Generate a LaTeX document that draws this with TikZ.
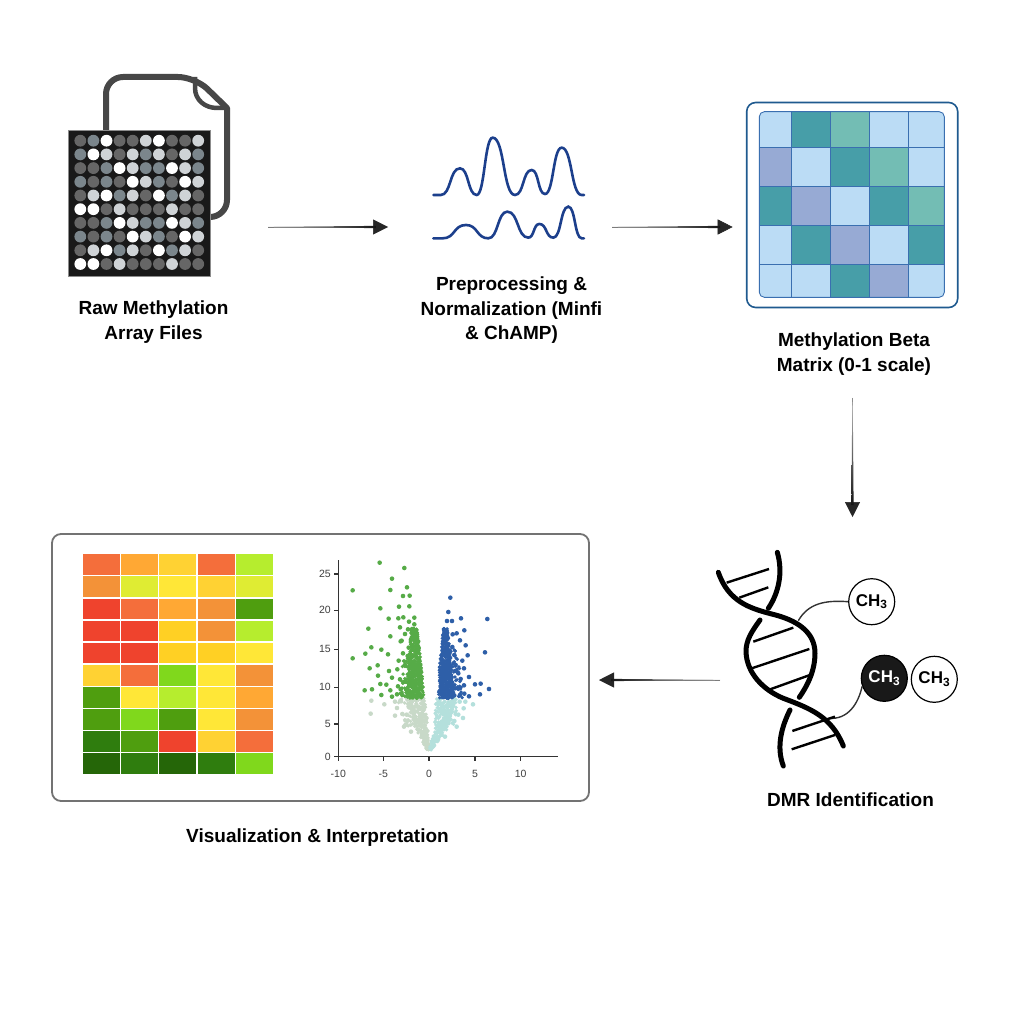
\documentclass[tikz,border=0pt]{standalone}
\usepackage{xcolor}
\usepackage{fontspec}
\setmainfont{Liberation Sans}
\usetikzlibrary{arrows.meta,calc}

% chip dots
\definecolor{dotd}{HTML}{666666}
\definecolor{dotm}{HTML}{7B868C}
\definecolor{dotl}{HTML}{CFD3D6}
\definecolor{dotw}{HTML}{FFFFFF}
% beta matrix
\definecolor{betal}{HTML}{BBDCF5}
\definecolor{betat}{HTML}{479EA8}
\definecolor{betag}{HTML}{73BDB4}
\definecolor{betap}{HTML}{97AAD4}
% heatmap
\definecolor{hmr}{HTML}{EF432D}
\definecolor{hms}{HTML}{F46E3B}
\definecolor{hmo}{HTML}{F39238}
\definecolor{hma}{HTML}{FFA834}
\definecolor{hmy}{HTML}{FFD233}
\definecolor{hmz}{HTML}{FFD024}
\definecolor{hmb}{HTML}{FFE737}
\definecolor{hmc}{HTML}{DFEC33}
\definecolor{hml}{HTML}{B6ED2E}
\definecolor{hmm}{HTML}{80D81C}
\definecolor{hmg}{HTML}{4F9E0F}
\definecolor{hmd}{HTML}{2F7D0E}
\definecolor{hmk}{HTML}{256608}
% volcano plot
\definecolor{volgreen}{HTML}{56AB47}
\definecolor{volblue}{HTML}{2E5FA8}
\definecolor{volpale}{HTML}{C8D9C8}
\definecolor{volaqua}{HTML}{B4E0DC}
\definecolor{wavecol}{HTML}{1C3F8C}
\definecolor{gridcol}{HTML}{3A6FB0}
\definecolor{framecol}{HTML}{1F5A8F}

\tikzset{
  caption/.style={font=\bfseries\fontsize{19}{24.5}\selectfont,align=center,inner sep=0pt},
  iconbox/.style={inner sep=0pt,outer sep=0pt},
  flowarrow/.style={draw=black!55,line width=0.5pt,-{Triangle[length=15pt,width=15pt,color=black!85]}},
  dnastrand/.style={line width=5pt,line cap=round},
  dnarung/.style={line width=2.4pt},
  methylline/.style={draw=black!80,line width=1.4pt},
  methyl/.style={circle,draw=black,line width=1.2pt,minimum size=46pt,inner sep=0pt,font=\bfseries\fontsize{17}{17}\selectfont},
  ticklabel/.style={font=\fontsize{10.5}{12}\selectfont,text=black!75,inner sep=0pt},
  axisline/.style={draw=black!80,line width=1.2pt}
}

\begin{document}
\begin{tikzpicture}[x=1pt,y=-1pt]
\useasboundingbox[fill=white] (0,0) rectangle (1024,1024);

% file behind the chip
\draw[line width=6pt,draw=black!72,line join=round] (106,132) [rounded corners=17pt] -- (106,77) -- (195,77) [sharp corners] -- (227,108) -- (227,150) [rounded corners=17pt] -- (227,217) -- (208,217);
\draw[line width=4.5pt,draw=black!72,line join=round] (195,77) -- (195,88) .. controls (195,100) and (205,108) .. (217,108) -- (227,108);

\node[iconbox,fill=black!90,draw=black!45,line width=0.5pt,minimum width=142pt,minimum height=146pt] (rawchip) at (139,203.7) {};
\foreach \row [count=\j] in {{d,m,w,d,d,l,w,d,d,l},{m,w,l,d,l,m,l,d,l,m},{d,d,m,w,l,m,m,w,l,m},{m,d,m,d,w,l,m,d,w,l},{d,l,w,m,l,d,w,m,l,d},{w,w,d,l,d,d,d,l,d,d},{d,d,m,w,l,m,m,w,l,m},{m,d,m,d,w,l,m,d,w,l},{d,l,w,m,l,d,w,m,l,d},{w,w,d,l,d,d,d,l,d,d}}
  \foreach \c [count=\i] in \row
    \fill[fill=dot\c] ({80.3+13.1*(\i-1)},{140.7+13.7*(\j-1)}) circle (5.9pt);
\node[caption] (rawlabel) at (153.5,322) {Raw Methylation\\Array Files};

% curves
\node[iconbox,minimum width=152pt,minimum height=105pt] (wavebox) at (509,188.5) {};
\begin{scope}[shift={(420,120)},x=0.3333pt,y=-0.3333pt,line width=2.6pt,draw=wavecol,line cap=round]
\draw (40,225) -- (62,225) .. controls +(32,0) and +(-32,0) .. (120,145) .. controls +(27,0) and +(-27,0) .. (170,225) .. controls +(24,0) and +(-24,0) .. (218,53) .. controls +(36,0) and +(-36,0) .. (285,225) .. controls +(27,0) and +(-27,0) .. (335,150) .. controls +(22,0) and +(-22,0) .. (375,222) .. controls +(26,0) and +(-26,0) .. (425,83) .. controls +(32,0) and +(-32,0) .. (485,225) -- (492,225);
\draw (40,355) -- (68,355) .. controls +(38,0) and +(-38,0) .. (138,315) .. controls +(36,0) and +(-36,0) .. (205,355) .. controls +(30,0) and +(-30,0) .. (262,275) .. controls +(34,0) and +(-34,0) .. (325,353) .. controls +(18,0) and +(-18,0) .. (358,312) .. controls +(23,0) and +(-23,0) .. (400,353) .. controls +(24,0) and +(-24,0) .. (445,260) .. controls +(21,0) and +(-21,0) .. (485,355) -- (492,355);
\end{scope}
\node[caption] (wavelabel) at (511.5,310.5) {Preprocessing \&\\Normalization (Minfi\\\& ChAMP)};

% beta matrix
\node[iconbox,draw=framecol,line width=1.6pt,rounded corners=9pt,minimum width=211pt,minimum height=205pt] (betaframe) at (852.2,205) {};
\begin{scope}
\clip[rounded corners=5pt] (759.3,111.7) rectangle (944.3,297.3);
\foreach \row/\ya/\yb in {{l,t,g,l,l}/111.7/147.3,{p,l,t,g,l}/147.3/186,{t,p,l,t,g}/186/225.3,{l,t,p,l,t}/225.3/264.3,{l,l,t,p,l}/264.3/297.3}
  \foreach \c [count=\i] in \row {
    \pgfmathsetmacro\xa{{759.3,791.3,830.3,869.3,908.3}[\i-1]}
    \pgfmathsetmacro\xb{{791.3,830.3,869.3,908.3,944.3}[\i-1]}
    \fill[fill=beta\c] (\xa,\ya) rectangle (\xb,\yb);
  }
\foreach \gx in {791.3,830.3,869.3,908.3}
  \draw[draw=gridcol,line width=0.9pt] (\gx,111.7) -- (\gx,297.3);
\foreach \gy in {147.3,186,225.3,264.3}
  \draw[draw=gridcol,line width=0.9pt] (759.3,\gy) -- (944.3,\gy);
\end{scope}
\draw[draw=gridcol,line width=0.9pt,rounded corners=5pt] (759.3,111.7) rectangle (944.3,297.3);
\node[caption] (betalabel) at (854,354) {Methylation Beta\\Matrix (0-1 scale)};

% dna helix
\node[iconbox,minimum width=120pt,minimum height=216pt] (dnabox) at (780,660) {};
\node[methyl,fill=white] (ch3top) at (871.7,601.7) {CH\textsubscript{3}};
\node[methyl,fill=black!90,text=white] (ch3black) at (884.3,678.3) {CH\textsubscript{3}};
\node[methyl,fill=white] (ch3right) at (934.3,679.3) {CH\textsubscript{3}};
\begin{scope}[shift={(700,540)},x=0.3333pt,y=-0.3333pt]
\coordinate (dnaupper) at (295,242);
\coordinate (dnalower) at (385,535);
\draw[methylline] (dnaupper) .. controls (325,190) and (375,180) .. (ch3top.west);
\draw[methylline] (dnalower) .. controls (445,540) and (475,490) .. (ch3black.200);
\draw[dnastrand] (55,97) .. controls (85,185) and (150,205) .. (215,222) .. controls (290,240) and (345,275) .. (345,340) .. controls (345,395) and (320,440) .. (298,472);
\draw[dnastrand] (270,510) .. controls (245,560) and (228,620) .. (250,678);
\draw[dnastrand] (232,37) .. controls (250,100) and (235,160) .. (205,205);
\draw[dnastrand] (180,240) .. controls (155,275) and (138,300) .. (138,335) .. controls (140,400) and (190,450) .. (250,475) .. controls (330,505) and (395,530) .. (430,618);
\foreach \ax/\ay/\bx/\by in {80/128/207/87,118/173/205/142,160/305/280/263,155/385/328/327,205/450/330/405,277/573/405/530,275/628/405/585}
  \draw[dnarung] (\ax,\ay) -- (\bx,\by);
\end{scope}
\node[caption] (dnalabel) at (850.5,800) {DMR Identification};

% result panel
\node[iconbox,draw=black!55,line width=1.8pt,rounded corners=9pt,minimum width=537pt,minimum height=267pt] (vizpanel) at (320.5,667.5) {};
\foreach \row [count=\j] in {{s,a,y,s,l},{o,c,b,y,c},{r,s,a,o,g},{r,r,z,o,l},{r,r,z,z,b},{y,s,m,b,o},{g,b,l,b,a},{g,m,g,b,o},{d,g,r,y,s},{k,d,k,d,m}}
  \foreach \c [count=\i] in \row
    \fill[fill=hm\c] ({82.7+38.3*(\i-1)},{554.3+22.1*(\j-1)}) rectangle ++(37,20.7);
\node[caption] (vizlabel) at (317.5,838) {Visualization \& Interpretation};

% volcano plot
\begin{scope}[shift={(310,550)},x=0.3333pt,y=-0.3333pt]
\pgfmathsetseed{4711}
\foreach \tone/\ya/\yb/\lxa/\lxb/\rxa/\rxb/\n in {volpale/445/520/287/310/346/352/170,volpale/520/600/310/350/352/358/110,volpale/445/530/262/285/300/320/28,volaqua/445/540/378/372/440/410/170,volaqua/540/600/372/358/410/365/70,volaqua/445/530/410/400/450/430/28,volgreen/235/340/304/295/322/333/170,volgreen/340/445/295/292/333/342/300,volgreen/320/445/280/268/305/300/36,volblue/235/340/400/389/412/424/170,volblue/340/445/389/384/424/432/300,volblue/300/445/415/425/440/462/45}
  \foreach \k in {1,...,\n} {
    \pgfmathsetmacro\py{\ya+(\yb-\ya)*rnd}
    \pgfmathsetmacro\ft{(\py-\ya)/(\yb-\ya)}
    \pgfmathsetmacro\lx{\lxa+(\lxb-\lxa)*\ft}
    \pgfmathsetmacro\rx{\rxa+(\rxb-\rxa)*\ft}
    \pgfmathsetmacro\px{\lx+(\rx-\lx)*rnd}
    \fill[fill=\tone] (\px,\py) circle (1.9pt);
  }
\foreach \px/\py in {184/452,223/463,182/491,255/455,273/454,261/474,255/497,277/492,290/494,282/530,305/455,296/470,303/545,292/512}
  \fill[fill=volpale] (\px,\py) circle (2.3pt);
\foreach \px/\py in {449/455,466/455,489/463,461/475,445/494,459/504,433/513,440/530,420/490,395/462,405/560,415/520}
  \fill[fill=volaqua] (\px,\py) circle (2.3pt);
\foreach \px/\py in {209/38,283/54,246/86,128/121,241/120,291/112,279/138,299/137,267/170,298/169,211/175,236/206,265/205,280/202,313/203,297/215,313/223,175/236,270/232,294/238,285/252,241/259,275/272,272/274,303/268,184/292,214/299,296/293,279/310,166/311,234/313,128/325,293/318,266/332,203/346,179/355,285/345,262/358,237/363,204/377,246/383,270/388,285/395,211/402,229/404,264/409,272/418,164/421,186/418,241/421,288/418,214/435,246/440,261/433,277/435,292/437}
  \fill[fill=volgreen] (\px,\py) circle (2.3pt);
\foreach \px/\py in {421/143,415/186,411/213,426/213,453/205,532/207,463/241,440/250,428/253,450/271,467/286,427/291,525/307,473/316,433/315,457/332,431/340,437/345,462/355,435/363,445/370,477/381,452/387,495/403,512/401,537/417,462/406,450/415,510/433,477/439,463/431,450/435,433/436,420/430,435/415}
  \fill[fill=volblue] (\px,\py) circle (2.3pt);
\draw[axisline] (85,30) -- (85,620) -- (743,620);
\foreach \v/\ty [count=\i] in {0/620,5/522,10/412,15/298,20/181,25/72} {
  \draw[axisline] (85,\ty) -- (73,\ty);
  \node[ticklabel,anchor=east] (ytick\i) at (63,\ty) {\v};
}
\foreach \v/\tx [count=\i] in {-10/85,-5/220,0/357,5/495,10/632} {
  \draw[axisline] (\tx,620) -- (\tx,632);
  \node[ticklabel] (xtick\i) at (\tx,673) {\v};
}
\end{scope}

% arrows
\draw[flowarrow,shorten <=58pt,shorten >=45pt] ([yshift=-23.3pt]rawchip.east) -- ([yshift=-38.5pt]wavebox.west);
\shade[left color=black!25,middle color=black!88,right color=black!92] (268,226.8) -- (376,225.9) -- (376,228.1) -- (268,227.2) -- cycle;
\draw[flowarrow,shorten <=27pt,shorten >=14pt] ([yshift=-38.5pt]wavebox.east) -- ([yshift=-22pt]betaframe.west);
\shade[left color=black!25,middle color=black!88,right color=black!92] (612,226.8) -- (720,225.9) -- (720,228.1) -- (612,227.2) -- cycle;
\draw[flowarrow,shorten <=22.5pt,shorten >=35pt] (852.5,0 |- betalabel.south) -- (852.5,0 |- dnabox.north);
\shade[top color=black!25,middle color=black!88,bottom color=black!92] (852.3,398) -- (851.4,505) -- (853.6,505) -- (852.7,398) -- cycle;
\draw[flowarrow,shorten >=10pt] ([yshift=-20pt]dnabox.west) -- ([yshift=-12.5pt]vizpanel.east);
\shade[right color=black!25,middle color=black!88,left color=black!92] (720,679.8) -- (611,678.9) -- (611,681.1) -- (720,680.2) -- cycle;
\end{tikzpicture}
\end{document}
